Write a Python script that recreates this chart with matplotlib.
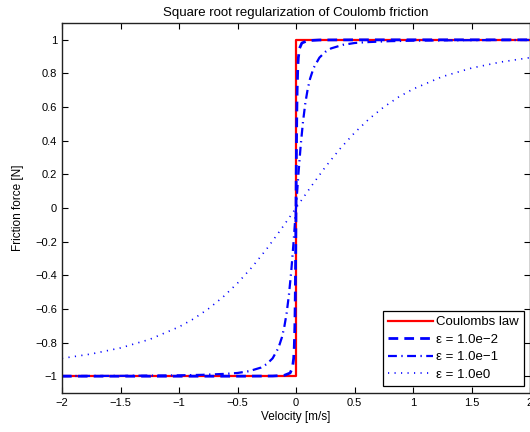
import matplotlib
matplotlib.use('Agg')
import matplotlib.pyplot as plt

plt.rcParams['font.family'] = ['Liberation Sans', 'DejaVu Sans']
plt.rcParams['font.size'] = 8

# Coulomb law (ideal step)
coulomb_v = [-2.0, 0.0, 0.0, 2.0]
coulomb_f = [-1.0, -1.0, 1.0, 1.0]

# eps = 1e-2
v_e2 = [-2.0, -1.0, -0.5, -0.2, -0.1, -0.05, -0.03, -0.02, -0.015, -0.01, -0.007, -0.005, -0.0025, 0.0,
        0.0025, 0.005, 0.007, 0.01, 0.015, 0.02, 0.03, 0.05, 0.1, 0.2, 0.5, 1.0, 2.0]
f_e2 = [-1.0, -1.0, -1.0, -0.999, -0.995, -0.981, -0.949, -0.894, -0.832, -0.707, -0.573, -0.447, -0.243, 0.0,
        0.243, 0.447, 0.573, 0.707, 0.832, 0.894, 0.949, 0.981, 0.995, 0.999, 1.0, 1.0, 1.0]

# eps = 1e-1
v_e1 = [-2.0, -1.5, -1.0, -0.8, -0.6, -0.5, -0.4, -0.3, -0.25, -0.2, -0.15, -0.12, -0.1, -0.08, -0.06,
        -0.04, -0.02, 0.0, 0.02, 0.04, 0.06, 0.08, 0.1, 0.12, 0.15, 0.2, 0.25, 0.3, 0.4, 0.5, 0.6,
        0.8, 1.0, 1.5, 2.0]
f_e1 = [-0.999, -0.998, -0.995, -0.992, -0.986, -0.981, -0.970, -0.949, -0.928, -0.894, -0.832, -0.768,
        -0.707, -0.625, -0.514, -0.371, -0.196, 0.0, 0.196, 0.371, 0.514, 0.625, 0.707, 0.768, 0.832,
        0.894, 0.928, 0.949, 0.970, 0.981, 0.986, 0.992, 0.995, 0.998, 0.999]

# eps = 1e0
v_e0 = [-2.0, -1.75, -1.5, -1.25, -1.0, -0.875, -0.75, -0.625, -0.5, -0.375, -0.25, -0.125, 0.0,
        0.125, 0.25, 0.375, 0.5, 0.625, 0.75, 0.875, 1.0, 1.25, 1.5, 1.75, 2.0]
f_e0 = [-0.894, -0.868, -0.832, -0.781, -0.707, -0.659, -0.600, -0.530, -0.447, -0.351, -0.243, -0.124, 0.0,
        0.124, 0.243, 0.351, 0.447, 0.530, 0.600, 0.659, 0.707, 0.781, 0.832, 0.868, 0.894]

labels = ['Coulombs law', 'ε = 1.0e−2', 'ε = 1.0e−1', 'ε = 1.0e0']

x_ticks = [-2, -1.5, -1, -0.5, 0, 0.5, 1, 1.5, 2]
x_ticklabels = ['−2', '−1.5', '−1', '−0.5', '0', '0.5', '1', '1.5', '2']
y_ticks = [-1, -0.8, -0.6, -0.4, -0.2, 0, 0.2, 0.4, 0.6, 0.8, 1]
y_ticklabels = ['−1', '−0.8', '−0.6', '−0.4', '−0.2', '0', '0.2', '0.4', '0.6', '0.8', '1']

fig = plt.figure(figsize=(5.3, 4.32), dpi=100)
ax = fig.add_axes([62 / 530, 39 / 432, 468 / 530, 370 / 432])

ax.plot(coulomb_v, coulomb_f, color='red', lw=1.6, label=labels[0])
ax.plot(v_e2, f_e2, color='blue', lw=2.0, dashes=(3.5, 2.2), label=labels[1])
ax.plot(v_e1, f_e1, color='blue', lw=1.6, dashes=(4, 2, 0.6, 2), label=labels[2])
ax.plot(v_e0, f_e0, color='blue', lw=1.2, dashes=(0.7, 3.2), label=labels[3])

ax.set_xlim(-2, 2)
ax.set_ylim(-1.1, 1.1)
ax.set_xticks(x_ticks)
ax.set_xticklabels(x_ticklabels)
ax.set_yticks(y_ticks)
ax.set_yticklabels(y_ticklabels)
ax.tick_params(direction='in', top=True, right=True, length=4, width=0.8, colors='black', labelsize=8)
for s in ax.spines.values():
    s.set_linewidth(1.0)
    s.set_color('#222222')

ax.set_title('Square root regularization of Coulomb friction', fontsize=9.5, pad=5)
ax.set_xlabel('Velocity [m/s]', fontsize=8.5, labelpad=2)
ax.set_ylabel('Friction force [N]', fontsize=8.5, labelpad=8)

leg = ax.legend(loc='lower right', bbox_to_anchor=(524 / 530, 46 / 432), bbox_transform=fig.transFigure,
                borderaxespad=0, fancybox=False, framealpha=1, edgecolor='black', fontsize=9.5,
                handlelength=3.4, handletextpad=0.25, labelspacing=0.4, borderpad=0.4)
leg.get_frame().set_linewidth(0.9)

fig.savefig('out.png', dpi=100)
